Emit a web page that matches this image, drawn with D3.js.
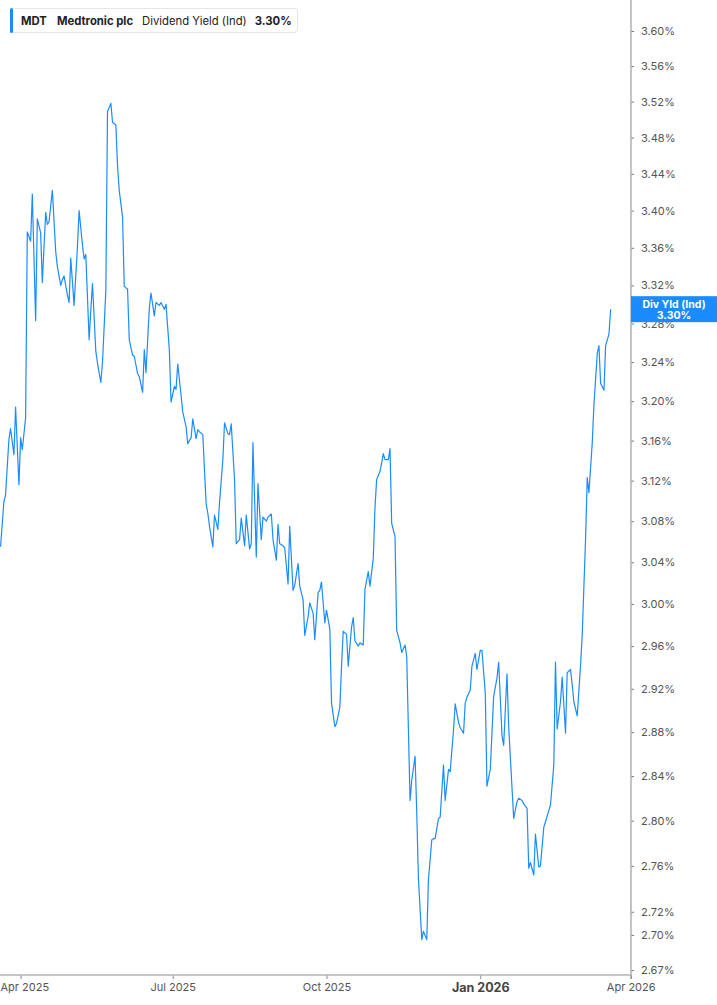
<!DOCTYPE html>
<html>
<head>
<meta charset="utf-8">
<script src="https://cdn.jsdelivr.net/npm/d3@7"></script>
<style>
  html, body { margin: 0; padding: 0; background: #fff; }
  svg { display: block; font-family: Inter, "Noto Sans", sans-serif; }
</style>
</head>
<body>
<svg id="chart" width="717" height="1005"></svg>
<script>
const dates = [
"2025-03-20","2025-03-22","2025-03-23","2025-03-25","2025-03-26","2025-03-28","2025-03-29","2025-03-31",
"2025-04-01","2025-04-02","2025-04-04","2025-04-05","2025-04-07","2025-04-08","2025-04-10","2025-04-11",
"2025-04-13","2025-04-14","2025-04-16","2025-04-17","2025-04-18","2025-04-20","2025-04-22","2025-04-23",
"2025-04-25","2025-04-26","2025-04-27","2025-04-29","2025-04-30","2025-05-01","2025-05-03","2025-05-05",
"2025-05-06","2025-05-08","2025-05-09","2025-05-10","2025-05-12","2025-05-13","2025-05-14","2025-05-16",
"2025-05-17","2025-05-19","2025-05-20","2025-05-22","2025-05-23","2025-05-25","2025-05-26","2025-05-28",
"2025-05-29","2025-05-30","2025-06-01","2025-06-02","2025-06-04","2025-06-05","2025-06-07","2025-06-08",
"2025-06-10","2025-06-11","2025-06-13","2025-06-14","2025-06-15","2025-06-17","2025-06-18","2025-06-20",
"2025-06-21","2025-06-23","2025-06-24","2025-06-26","2025-06-27","2025-06-29","2025-06-30","2025-07-02",
"2025-07-03","2025-07-04","2025-07-06","2025-07-07","2025-07-09","2025-07-10","2025-07-12","2025-07-13",
"2025-07-15","2025-07-16","2025-07-17","2025-07-19","2025-07-21","2025-07-22","2025-07-23","2025-07-25",
"2025-07-26","2025-07-28","2025-07-29","2025-07-31","2025-08-01","2025-08-03","2025-08-04","2025-08-05",
"2025-08-07","2025-08-08","2025-08-10","2025-08-11","2025-08-13","2025-08-14","2025-08-16","2025-08-17",
"2025-08-18","2025-08-20","2025-08-21","2025-08-23","2025-08-24","2025-08-26","2025-08-27","2025-08-29",
"2025-08-30","2025-09-01","2025-09-02","2025-09-03","2025-09-05","2025-09-06","2025-09-08","2025-09-09",
"2025-09-11","2025-09-12","2025-09-14","2025-09-15","2025-09-17","2025-09-18","2025-09-20","2025-09-21",
"2025-09-23","2025-09-24","2025-09-26","2025-09-27","2025-09-28","2025-09-30","2025-10-01","2025-10-03",
"2025-10-04","2025-10-06","2025-10-07","2025-10-09","2025-10-10","2025-10-11","2025-10-13","2025-10-14",
"2025-10-16","2025-10-17","2025-10-18","2025-10-20","2025-10-21","2025-10-23","2025-10-24","2025-10-26",
"2025-10-27","2025-10-29","2025-10-30","2025-10-31","2025-11-02","2025-11-04","2025-11-05","2025-11-07",
"2025-11-08","2025-11-09","2025-11-11","2025-11-12","2025-11-14","2025-11-15","2025-11-17","2025-11-18",
"2025-11-20","2025-11-21","2025-11-23","2025-11-24","2025-11-25","2025-11-27","2025-11-28","2025-11-30",
"2025-12-01","2025-12-03","2025-12-04","2025-12-05","2025-12-07","2025-12-08","2025-12-10","2025-12-11",
"2025-12-13","2025-12-14","2025-12-16","2025-12-17","2025-12-19","2025-12-20","2025-12-22","2025-12-23",
"2025-12-24","2025-12-26","2025-12-27","2025-12-29","2025-12-30","2026-01-01","2026-01-02","2026-01-04",
"2026-01-05","2026-01-07","2026-01-08","2026-01-09","2026-01-11","2026-01-12","2026-01-14","2026-01-15",
"2026-01-17","2026-01-18","2026-01-20","2026-01-21","2026-01-23","2026-01-24","2026-01-26","2026-01-27",
"2026-01-29","2026-01-30","2026-01-31","2026-02-02","2026-02-03","2026-02-05","2026-02-06","2026-02-08",
"2026-02-09","2026-02-11","2026-02-12","2026-02-14","2026-02-15","2026-02-16","2026-02-18","2026-02-19",
"2026-02-21","2026-02-22","2026-02-24","2026-02-25","2026-02-26","2026-02-28","2026-03-02","2026-03-03",
"2026-03-05","2026-03-06","2026-03-07","2026-03-09","2026-03-10","2026-03-12","2026-03-13","2026-03-14",
"2026-03-16","2026-03-17","2026-03-19","2026-03-20"
];

const values = [
3.055,3.099,3.106,3.161,3.172,3.146,3.194,3.116,
3.163,3.151,3.183,3.377,3.367,3.418,3.283,3.391,
3.376,3.323,3.398,3.385,3.388,3.422,3.356,3.340,
3.320,3.326,3.330,3.310,3.302,3.349,3.299,3.361,
3.400,3.363,3.348,3.353,3.263,3.294,3.322,3.251,
3.239,3.219,3.240,3.315,3.509,3.518,3.497,3.494,
3.448,3.422,3.393,3.319,3.316,3.263,3.247,3.246,
3.228,3.225,3.209,3.253,3.229,3.296,3.312,3.288,
3.302,3.299,3.302,3.295,3.300,3.252,3.199,3.215,
3.212,3.238,3.206,3.189,3.174,3.157,3.163,3.182,
3.162,3.171,3.169,3.166,3.097,3.088,3.075,3.055,
3.086,3.072,3.098,3.141,3.178,3.167,3.166,3.177,
3.121,3.058,3.062,3.083,3.056,3.086,3.053,3.058,
3.158,3.045,3.117,3.062,3.084,3.080,3.084,3.087,
3.062,3.042,3.077,3.058,3.056,3.054,3.019,3.075,
3.013,3.018,3.039,3.017,3.004,2.970,2.988,3.001,
2.991,2.966,3.011,3.013,3.021,2.982,2.994,2.976,
2.907,2.885,2.888,2.903,2.941,2.974,2.971,2.941,
2.978,2.987,2.965,2.960,2.963,2.961,3.014,3.031,
3.017,3.044,3.093,3.121,3.129,3.147,3.141,3.141,
3.152,3.078,3.065,2.975,2.963,2.954,2.961,2.950,
2.818,2.836,2.858,2.807,2.749,2.696,2.703,2.696,
2.748,2.783,2.784,2.784,2.802,2.803,2.850,2.818,
2.846,2.844,2.882,2.906,2.889,2.884,2.879,2.907,
2.912,2.919,2.941,2.953,2.938,2.956,2.956,2.916,
2.831,2.846,2.879,2.913,2.930,2.945,2.877,2.868,
2.934,2.885,2.829,2.802,2.817,2.820,2.818,2.815,
2.811,2.758,2.763,2.752,2.788,2.759,2.760,2.794,
2.799,2.809,2.814,2.850,2.945,2.883,2.908,2.931,
2.879,2.935,2.938,2.924,2.908,2.895,2.942,2.971,
3.063,3.123,3.108,3.158,3.196,3.249,3.257,3.218,
3.211,3.257,3.269,3.295
];

const yTicks = [3.60,3.56,3.52,3.48,3.44,3.40,3.36,3.32,3.28,3.24,3.20,3.16,3.12,3.08,3.04,3.00,2.96,2.92,2.88,2.84,2.80,2.76,2.72,2.70,2.67];
const xTickDates = ["2025-04-01","2025-07-01","2025-10-01","2026-01-01","2026-04-01"];
const xTickLabels = ["Apr 2025","Jul 2025","Oct 2025","Jan 2026","Apr 2026"];
const yDomain = [2.6658, 3.6357];
const xDomain = ["2025-04-01","2026-04-01"];

const legendTicker = "MDT";
const legendName = "Medtronic plc";
const legendMetric = "Dividend Yield (Ind)";
const legendValue = "3.30%";
const badgeLines = ["Div Yld (Ind)", "3.30%"];

const W = 717, H = 1005;
const plotRight = 631, plotBottom = 975;
const blue = "#1a8cff";
const axisGray = "#b4b4b4";
const tickText = "#555";

const parse = d3.utcParse("%Y-%m-%d");
const data = dates.map((d, i) => ({ date: parse(d), value: values[i] }));

const svg = d3.select("#chart");

const x = d3.scaleUtc()
  .domain(xDomain.map(parse))
  .range([20.6, 630.7]);

const y = d3.scaleLog()
  .domain(yDomain)
  .range([plotBottom, 0]);

svg.append("defs").append("clipPath").attr("id", "clip")
  .append("rect").attr("x", 0).attr("y", 0).attr("width", plotRight).attr("height", plotBottom);

// line
const line = d3.line().x(d => x(d.date)).y(d => y(d.value));
svg.append("path")
  .datum(data)
  .attr("clip-path", "url(#clip)")
  .attr("fill", "none")
  .attr("stroke", blue)
  .attr("stroke-width", 1.2)
  .attr("stroke-linejoin", "round")
  .attr("d", line);

// y axis (right)
const yAxis = d3.axisRight(y)
  .tickValues(yTicks)
  .tickSize(3)
  .tickPadding(7)
  .tickFormat(d => d.toFixed(2) + "%");
const gy = svg.append("g").attr("transform", `translate(${plotRight},0)`).call(yAxis);
gy.select(".domain").remove();
gy.selectAll(".tick line").attr("stroke", "#777").attr("stroke-width", 1);
gy.selectAll(".tick text")
  .attr("fill", tickText)
  .style("font-size", "11px")
  .style("font-family", "Inter, 'Noto Sans', sans-serif");
svg.append("line")
  .attr("x1", plotRight).attr("x2", plotRight)
  .attr("y1", 0).attr("y2", plotBottom + 4)
  .attr("stroke", axisGray).attr("stroke-width", 1.6);

// x axis
const xAxis = d3.axisBottom(x)
  .tickValues(xTickDates.map(parse))
  .tickSize(4)
  .tickPadding(4)
  .tickFormat((d, i) => xTickLabels[i]);
const gx = svg.append("g").attr("transform", `translate(0,${plotBottom})`).call(xAxis);
gx.select(".domain").remove();
gx.selectAll(".tick line").attr("stroke", "#888");
gx.selectAll(".tick text")
  .attr("fill", tickText)
  .style("font-size", "11px")
  .style("font-family", "Inter, 'Noto Sans', sans-serif")
  .each(function(d, i) {
    if (xTickLabels[i].startsWith("Jan")) {
      d3.select(this).style("font-weight", "700").style("font-size", "12.5px").attr("fill", "#444");
    }
    if (i === 0) {
      const w = this.getComputedTextLength();
      const cx = x(d);
      if (cx - w / 2 < 0) d3.select(this).attr("text-anchor", "start").attr("x", -cx);
    }
  });
svg.append("line")
  .attr("x1", 0).attr("x2", plotRight)
  .attr("y1", plotBottom).attr("y2", plotBottom)
  .attr("stroke", axisGray).attr("stroke-width", 1.6);

// badge at last value
const last = data[data.length - 1];
const by = y(last.value);
const badge = svg.append("g");
badge.append("rect")
  .attr("x", plotRight).attr("y", by - 13)
  .attr("width", W - plotRight).attr("height", 26)
  .attr("fill", blue);
badge.selectAll("text").data(badgeLines).join("text")
  .attr("x", 674)
  .attr("y", (d, i) => by - 1.5 + i * 11)
  .attr("text-anchor", "middle")
  .attr("fill", "#fff")
  .style("font-size", "10.5px")
  .style("font-weight", "700")
  .text(d => d);

// legend
const lg = svg.append("g");
lg.append("rect")
  .attr("x", 10.5).attr("y", 8.5).attr("width", 287).attr("height", 24)
  .attr("rx", 3).attr("fill", "#fff").attr("stroke", "#e6e6e6");
lg.append("rect")
  .attr("x", 10).attr("y", 8).attr("width", 3).attr("height", 25)
  .attr("rx", 1.5).attr("fill", blue);
const legendItems = [
  { t: legendTicker, w: 700, gap: 0 },
  { t: legendName, w: 700, gap: 10 },
  { t: legendMetric, w: 400, gap: 9 },
  { t: legendValue, w: 700, gap: 8 }
];
let lx = 21;
lg.selectAll("text.lg").data(legendItems).join("text")
  .attr("class", "lg")
  .attr("y", 25)
  .attr("fill", "#222")
  .style("font-size", "11.3px")
  .style("font-weight", d => d.w)
  .text(d => d.t)
  .each(function(d) {
    lx += d.gap;
    d3.select(this).attr("x", lx);
    lx += this.getComputedTextLength();
  });
</script>
</body>
</html>
